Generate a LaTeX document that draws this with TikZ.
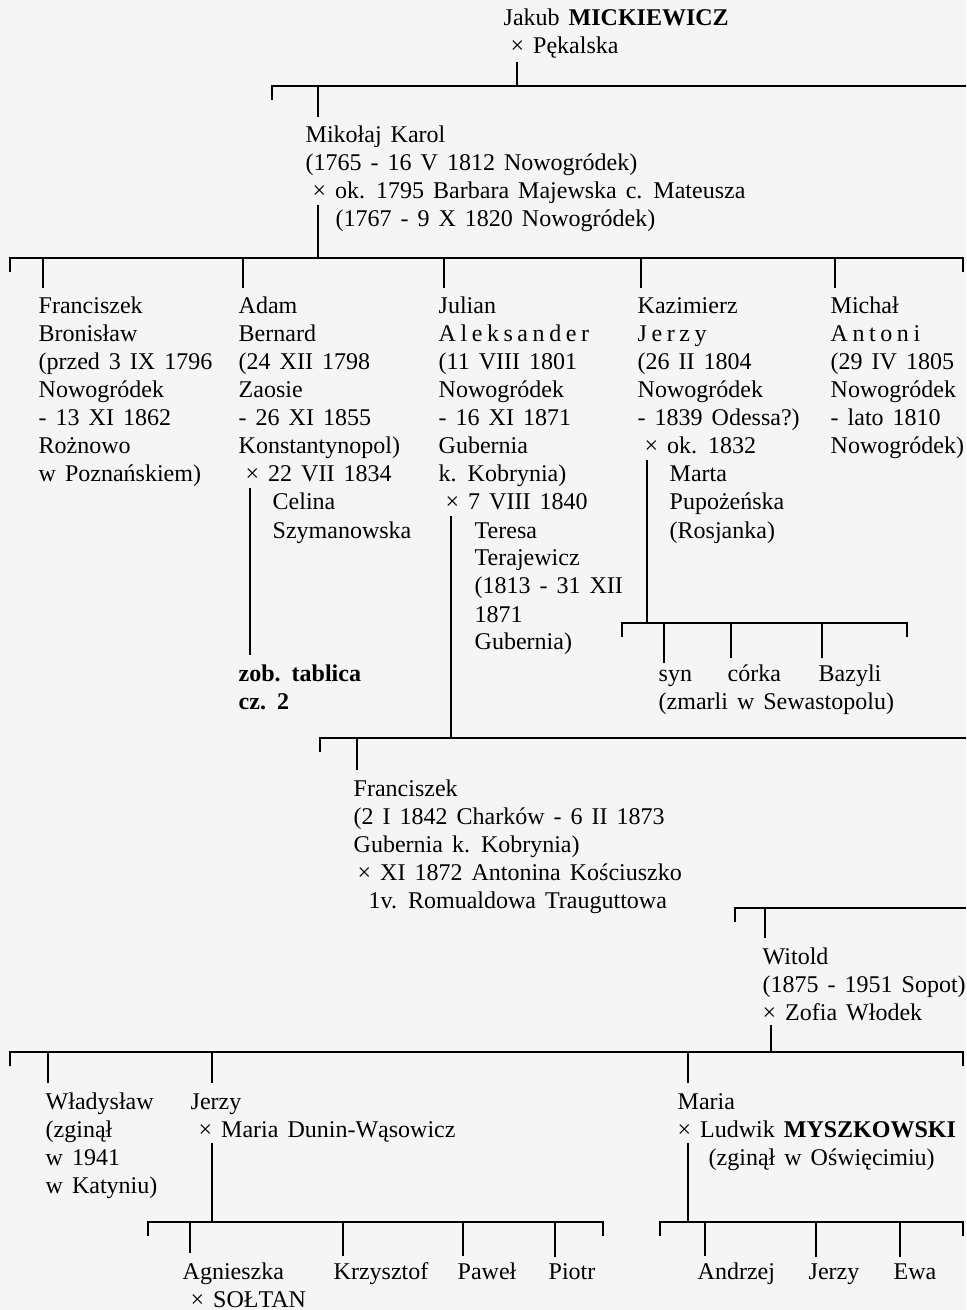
\documentclass[tikz,border=0pt]{standalone}
\usepackage{fontspec}
\setmainfont{Liberation Serif}[WordSpace=1.5]
\usepackage{xcolor}

\newcommand{\spaced}[1]{{\addfontfeature{LetterSpace=19}#1}}
\newcommand{\entry}[1]{\begin{tabular}[t]{@{}l@{}}#1\end{tabular}}
\newcommand{\kidline}[3]{% bracket y, x, child node
  \coordinate (#3-up) at (#2,#1);
  \draw (#3-up) -- (#3-up |- #3.north);}

\begin{document}
\begin{tikzpicture}[x=0.5pt,y=-0.5pt,line width=0.7pt,
    person/.style={anchor=base west,inner sep=0pt,outer ysep=3.2pt,
      font=\fontsize{12}{14}\selectfont}]
    \fill[black!4] (0,0) rectangle (966,1310);
    \useasboundingbox (0,0) rectangle (966,1310);

    % Jakub
    \node[person] (jakub) at (503,26) {\entry{Jakub \textbf{MICKIEWICZ}\\\hspace{3.5pt}× Pękalska}};
    \coordinate (jakub-x) at (517,62);
    \coordinate (brA-l) at (272,86); \coordinate (brA-r) at (966,86);
    \draw (jakub-x) -- (jakub-x |- brA-l);
    \draw (brA-l) ++(0,14) -- (brA-l) -- (brA-r);

    \node[person] (mikolaj) at (305,143) {\entry{Mikołaj Karol\\(1765 - 16 V 1812 Nowogródek)\\
      \hspace{3.5pt}× ok. 1795 Barbara Majewska c. Mateusza\\\hspace{15pt}(1767 - 9 X 1820 Nowogródek)}};
    \kidline{86}{318}{mikolaj}

    % children of Mikolaj
    \coordinate (mik-x) at (318,205);
    \coordinate (brB-l) at (10,258); \coordinate (brB-r) at (963,258);
    \draw (mik-x) -- (mik-x |- brB-l);
    \draw (brB-l) ++(0,14) -- (brB-l) -- (brB-r) -- ++(0,14);

    \node[person] (fb) at (38,314) {\entry{Franciszek\\Bronisław\\(przed 3 IX 1796\\Nowogródek\\- 13 XI 1862\\Rożnowo\\w Poznańskiem)}};
    \node[person] (ab) at (238,314) {\entry{Adam\\Bernard\\(24 XII 1798\\Zaosie\\- 26 XI 1855\\Konstantynopol)\\
      \hspace{3.5pt}× 22 VII 1834\\\hspace{17pt}Celina\\\hspace{17pt}Szymanowska}};
    \node[person] (ja) at (438,314) {\entry{Julian\\\spaced{Aleksander}\\(11 VIII 1801\\Nowogródek\\- 16 XI 1871\\Gubernia\\k. Kobrynia)\\
      \hspace{3.5pt}× 7 VIII 1840\\\hspace{18pt}Teresa\\\hspace{18pt}Terajewicz\\\hspace{18pt}(1813 - 31 XII\\\hspace{18pt}1871\\\hspace{18pt}Gubernia)}};
    \node[person] (kj) at (637,314) {\entry{Kazimierz\\\spaced{Jerzy}\\(26 II 1804\\Nowogródek\\- 1839 Odessa?)\\
      \hspace{3.5pt}× ok. 1832\\\hspace{16pt}Marta\\\hspace{16pt}Pupożeńska\\\hspace{16pt}(Rosjanka)}};
    \node[person] (ma) at (830,314) {\entry{Michał\\\spaced{Antoni}\\(29 IV 1805\\Nowogródek\\- lato 1810\\Nowogródek)}};
    \foreach \n/\x in {fb/43,ab/243,ja/444,kj/641,ma/835} {\kidline{258}{\x}{\n}}

    % Adam
    \node[person,font=\fontsize{12}{14}\selectfont\bfseries] (zob) at (238,681) {\entry{zob. tablica\\cz. 2}};
    \coordinate (ab-x) at (250,488);
    \draw (ab-x) -- (ab-x |- zob.north);

    % children of Kazimierz
    \coordinate (kj-x) at (647,460);
    \coordinate (brC-l) at (622,623); \coordinate (brC-r) at (907,623);
    \draw (kj-x) -- (kj-x |- brC-l);
    \draw (brC-l) ++(0,14) -- (brC-l) -- (brC-r) -- ++(0,14);
    \node[person] (syn) at (658,681) {syn};
    \node[person] (corka) at (727,681) {córka};
    \node[person] (bazyli) at (818,681) {Bazyli};
    \node[person] (zmarli) at (658,709) {(zmarli w Sewastopolu)};
    \foreach \n/\x in {syn/664,corka/731,bazyli/822} {\kidline{623}{\x}{\n}}

    % children of Julian
    \coordinate (ja-x) at (451,516);
    \coordinate (brD-l) at (320,738); \coordinate (brD-r) at (966,738);
    \draw (ja-x) -- (ja-x |- brD-l);
    \draw (brD-l) ++(0,14) -- (brD-l) -- (brD-r);
    \node[person] (fr) at (353,796) {\entry{Franciszek\\(2 I 1842 Charków - 6 II 1873\\Gubernia k. Kobrynia)\\
      \hspace{2pt}× XI 1872 Antonina Kościuszko\\\hspace{7.5pt}1v. Romualdowa Trauguttowa}};
    \kidline{738}{357}{fr}

    % Witold
    \coordinate (brE-l) at (735,908); \coordinate (brE-r) at (966,908);
    \draw (brE-l) ++(0,14) -- (brE-l) -- (brE-r);
    \node[person] (wi) at (762,964) {\entry{Witold\\(1875 - 1951 Sopot)\\× Zofia Włodek}};
    \kidline{908}{765}{wi}

    % children of Witold
    \coordinate (wi-x) at (771,1025);
    \coordinate (brF-l) at (10,1052); \coordinate (brF-r) at (963,1052);
    \draw (wi-x) -- (wi-x |- brF-l);
    \draw (brF-l) ++(0,14) -- (brF-l) -- (brF-r) -- ++(0,14);
    \node[person] (wl) at (45,1109) {\entry{Władysław\\(zginął\\w 1941\\w Katyniu)}};
    \node[person] (je) at (190,1109) {\entry{Jerzy\\\hspace{4pt}× Maria Dunin-Wąsowicz}};
    \node[person] (mr) at (677,1109) {\entry{Maria\\× Ludwik \textbf{MYSZKOWSKI}\\\hspace{15.5pt}(zginął w Oświęcimiu)}};
    \foreach \n/\x in {wl/48,je/212,mr/688} {\kidline{1052}{\x}{\n}}

    % children of Jerzy
    \coordinate (je-x) at (212,1143);
    \coordinate (brG-l) at (148,1222); \coordinate (brG-r) at (603,1222);
    \draw (je-x) -- (je-x |- brG-l);
    \draw (brG-l) ++(0,14) -- (brG-l) -- (brG-r) -- ++(0,14);
    \node[person] (ag) at (182,1279) {\entry{Agnieszka\\\hspace{4pt}× SOŁTAN}};
    \node[person] (kr) at (333,1279) {Krzysztof};
    \node[person] (pa) at (457,1279) {Paweł};
    \node[person] (pi) at (548,1279) {Piotr};
    \foreach \n/\x in {ag/190,kr/343,pa/463,pi/555} {\kidline{1222}{\x}{\n}}

    % children of Maria
    \coordinate (mr-x) at (688,1143);
    \coordinate (brH-l) at (660,1222); \coordinate (brH-r) at (963,1222);
    \draw (mr-x) -- (mr-x |- brH-l);
    \draw (brH-l) ++(0,14) -- (brH-l) -- (brH-r) -- ++(0,14);
    \node[person] (an) at (697,1279) {Andrzej};
    \node[person] (jm) at (808,1279) {Jerzy};
    \node[person] (ew) at (893,1279) {Ewa};
    \foreach \n/\x in {an/705,jm/816,ew/900} {\kidline{1222}{\x}{\n}}

  \end{tikzpicture}
\end{document}
